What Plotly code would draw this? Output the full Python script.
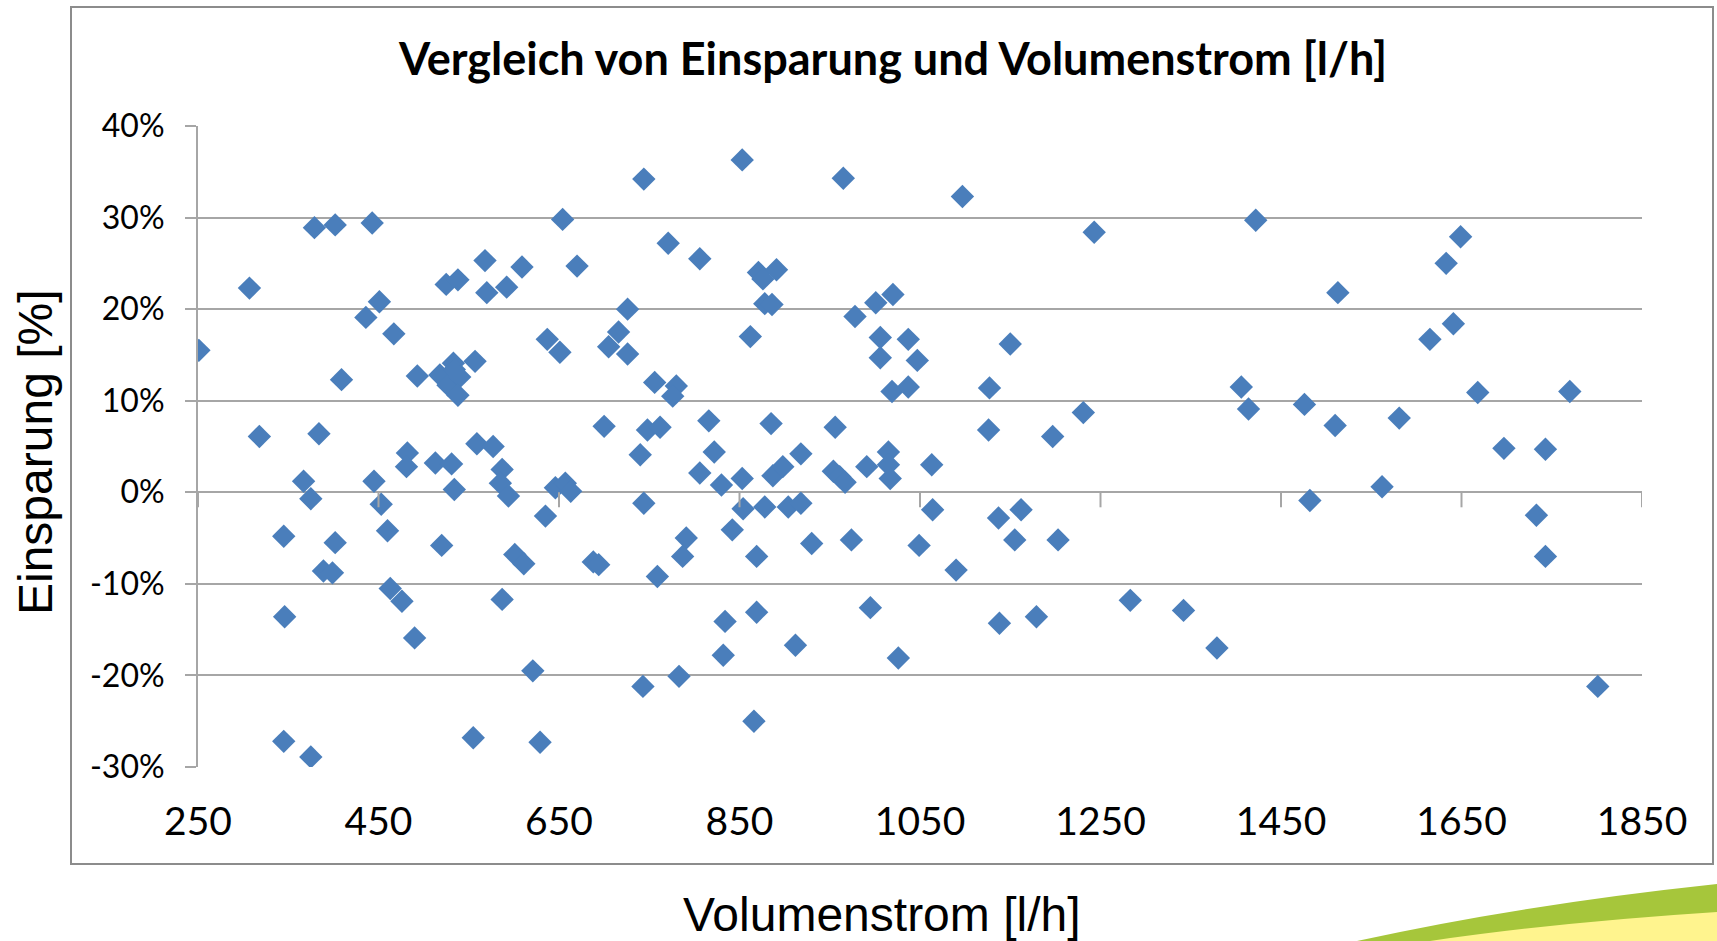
import plotly.graph_objects as go

# ---- data (Volumenstrom [l/h], Einsparung [%]) ----
volumenstrom = [
    251, 307, 379, 402, 443, 744, 654, 771, 568, 609, 670, 525, 538, 570, 592, 451,
    436, 467, 726, 716, 705, 726, 637, 651, 409, 493, 518, 527, 533, 534, 540, 538,
    557, 756, 780, 776, 700, 748, 762, 318, 384, 482, 481, 513, 531, 534, 559, 577,
    587, 585, 594, 367, 375, 445, 453, 460, 345, 402, 389, 399, 520, 601, 611, 688,
    694, 635, 646, 657, 663, 740, 744, 791, 787, 759, 463, 476, 346, 490, 587, 621,
    743, 783, 345, 375, 555, 629, 853, 965, 1097, 1243, 806, 871, 891, 876, 878, 886,
    862, 978, 1001, 1020, 1006, 1037, 1006, 1047, 1150, 1127, 1019, 1037, 816, 885, 956, 1126,
    1197, 1231, 822, 806, 830, 853, 887, 898, 918, 954, 961, 967, 991, 1015, 1015, 1017,
    1063, 854, 878, 904, 918, 842, 869, 930, 974, 1049, 1064, 1090, 1137, 1162, 1155, 1203,
    834, 869, 832, 912, 995, 1026, 1138, 1179, 1283, 1342, 866, 1422, 1649, 1633, 1513, 1641,
    1615, 1406, 1414, 1476, 1510, 1581, 1668, 1770, 1697, 1743, 1482, 1562, 1733, 1743, 1379, 1801,
]
einsparung = [
    15.5, 22.3, 28.9, 29.2, 29.4, 34.2, 29.8, 27.2, 25.3, 24.6, 24.7, 22.7, 23.2, 21.8, 22.4, 20.8,
    19.1, 17.3, 20.0, 17.5, 15.9, 15.1, 16.7, 15.3, 12.3, 12.7, 12.8, 11.7, 14.1, 13.4, 12.6, 10.6,
    14.3, 12.0, 11.6, 10.5, 7.2, 6.8, 7.1, 6.1, 6.4, 4.3, 2.8, 3.2, 3.1, 0.3, 5.3, 5.0,
    2.5, 1.0, -0.4, 1.2, -0.7, 1.2, -1.3, -4.2, -4.8, -5.5, -8.6, -8.8, -5.8, -6.8, -7.8, -7.6,
    -7.9, -2.6, 0.5, 1.0, 0.1, 4.1, -1.2, -5.0, -7.0, -9.2, -10.5, -11.9, -13.6, -15.9, -11.7, -19.5,
    -21.2, -20.1, -27.2, -28.9, -26.8, -27.3, 36.3, 34.3, 32.3, 28.4, 25.5, 24.0, 24.3, 23.3, 20.6, 20.5,
    17.0, 19.2, 20.7, 21.6, 16.9, 16.7, 14.7, 14.4, 16.2, 11.4, 11.0, 11.5, 7.8, 7.5, 7.1, 6.8,
    6.1, 8.7, 4.4, 2.1, 0.8, 1.5, 1.8, 2.8, 4.2, 2.3, 1.7, 1.1, 2.8, 4.4, 3.0, 1.5,
    3.0, -1.8, -1.6, -1.6, -1.2, -4.1, -7.0, -5.6, -5.2, -5.8, -1.9, -8.5, -2.8, -1.9, -5.2, -5.2,
    -14.1, -13.1, -17.8, -16.7, -12.6, -18.1, -14.3, -13.6, -11.8, -12.9, -25.0, 29.7, 27.9, 25.0, 21.8, 18.4,
    16.7, 11.5, 9.1, 9.6, 7.3, 8.1, 10.9, 11.0, 4.8, 4.7, -0.9, 0.6, -2.5, -7.0, -17.0, -21.2,
]

x_ticks = [250, 450, 650, 850, 1050, 1250, 1450, 1650, 1850]
y_ticks = [-30, -20, -10, 0, 10, 20, 30, 40]
y_ticktext = [f"{v}%" for v in y_ticks]

title_text = "Vergleich von Einsparung und Volumenstrom [l/h]"
x_title = "Volumenstrom [l/h]"
y_title = "Einsparung [%]"

# ---- layout geometry (pixels) ----
W, H = 1717, 941
PL, PR, PT, PB = 198, 1642, 126, 767
pw, ph = PR - PL, PB - PT


def px(xp):
    return (xp - PL) / pw


def py(yp):
    return (PB - yp) / ph


GRID = "#A6A6A6"
BLUE = "#4A7EBB"

fig = go.Figure()
fig.add_trace(go.Scatter(
    x=volumenstrom, y=einsparung, mode="markers",
    marker=dict(symbol="diamond", size=18, color=BLUE, line=dict(width=0)),
    hoverinfo="x+y", showlegend=False,
))

shapes = []
# chart frame
shapes.append(dict(type="rect", xref="paper", yref="paper",
                   x0=px(71), x1=px(1713), y0=py(864), y1=py(7),
                   line=dict(color="#8C8C8C", width=2), fillcolor="rgba(0,0,0,0)", layer="below"))
# tick marks of the horizontal axis hanging from the 0% line
for t in x_ticks:
    shapes.append(dict(type="line", xref="x", yref="y", ysizemode="pixel", yanchor=0,
                       x0=t, x1=t, y0=0, y1=-15, line=dict(color=GRID, width=2)))
# slide decoration (bottom right swoosh)
green_path = (f"M {px(1357)},{py(941)} Q {px(1520)},{py(905)} {px(1717)},{py(884)} "
              f"L {px(1717)},{py(941)} Z")
yellow_path = (f"M {px(1430)},{py(941)} Q {px(1560)},{py(922)} {px(1717)},{py(912)} "
               f"L {px(1717)},{py(941)} Z")
shapes.append(dict(type="path", xref="paper", yref="paper", path=green_path,
                   fillcolor="#A6C63B", line=dict(width=0)))
shapes.append(dict(type="path", xref="paper", yref="paper", path=yellow_path,
                   fillcolor="#FFF48E", line=dict(width=0)))

annotations = [
    dict(text=f"<b>{title_text}</b>", xref="paper", yref="paper", x=px(892), y=py(58),
         xanchor="center", yanchor="middle", showarrow=False,
         font=dict(family="Lato", size=45, color="#000000")),
    dict(text=x_title, xref="paper", yref="paper", x=px(882), y=py(914),
         xanchor="center", yanchor="middle", showarrow=False,
         font=dict(family="Liberation Sans", size=48, color="#000000")),
    dict(text=y_title, xref="paper", yref="paper", x=px(35), y=py(452),
         xanchor="center", yanchor="middle", showarrow=False, textangle=-90,
         font=dict(family="Liberation Sans", size=48, color="#000000")),
]

fig.update_layout(
    width=W, height=H,
    margin=dict(l=PL, r=W - PR, t=PT, b=H - PB, pad=0),
    paper_bgcolor="white", plot_bgcolor="white",
    shapes=shapes, annotations=annotations,
    xaxis=dict(range=[250, 1850], tickvals=x_ticks, ticktext=[str(t) for t in x_ticks],
               showgrid=False, zeroline=False, showline=False, ticks="",
               ticklabelstandoff=28,
               tickfont=dict(family="Lato", size=39, color="#000000")),
    yaxis=dict(range=[-30, 40], tickvals=y_ticks, ticktext=y_ticktext,
               showgrid=True, gridcolor=GRID, gridwidth=2,
               zeroline=True, zerolinecolor=GRID, zerolinewidth=2,
               showline=True, linecolor=GRID, linewidth=2,
               ticks="outside", ticklen=11, tickwidth=2, tickcolor=GRID,
               ticklabelstandoff=14,
               tickfont=dict(family="Lato", size=32, color="#000000")),
)

fig.write_html("out.html", config={"displayModeBar": False},
               post_script="document.body.style.margin='0px';")
